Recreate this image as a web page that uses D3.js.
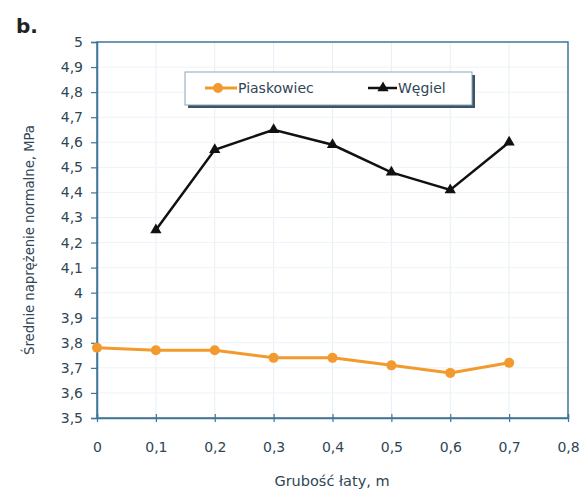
<!DOCTYPE html>
<html>
<head>
<meta charset="utf-8">
<script src="https://cdn.jsdelivr.net/npm/d3@7"></script>
<style>
  body { margin: 0; background: #fff; }
  text { font-family: "DejaVu Sans", Verdana, sans-serif; }
</style>
</head>
<body>
<div id="chart"></div>
<script>
// values
var thickness = [0, 0.1, 0.2, 0.3, 0.4, 0.5, 0.6, 0.7];
var piaskowiec = [3.78, 3.77, 3.77, 3.74, 3.74, 3.71, 3.68, 3.72];
var wegielX = [0.1, 0.2, 0.3, 0.4, 0.5, 0.6, 0.7];
var wegiel = [4.25, 4.57, 4.65, 4.59, 4.48, 4.41, 4.60];
var xTicks = [0, 0.1, 0.2, 0.3, 0.4, 0.5, 0.6, 0.7, 0.8];
var yTicks = [3.5, 3.6, 3.7, 3.8, 3.9, 4, 4.1, 4.2, 4.3, 4.4, 4.5, 4.6, 4.7, 4.8, 4.9, 5];

var W = 582, H = 491;
var margin = {top: 42, right: 14, bottom: 73, left: 97};
var width = W - margin.left - margin.right,
    height = H - margin.top - margin.bottom;

var axisCol = "#3f7596", textCol = "#2f4656";
var orange = "#f29a2e";

var svg = d3.select("#chart").append("svg")
    .attr("width", W).attr("height", H);

svg.append("text")
  .attr("x", 16).attr("y", 33)
  .attr("font-size", 20).attr("font-weight", "bold")
  .attr("fill", "#222")
  .text("b.");

var g = svg.append("g")
  .attr("transform", "translate(" + margin.left + "," + margin.top + ")");

var x = d3.scaleLinear().domain([0, 0.8]).range([0, width]);
var y = d3.scaleLinear().domain([3.5, 5]).range([height, 0]);

var fmt = function(d){ return d3.format("~g")(d).replace(".", ","); };

// faint grid
g.append("g").selectAll("line").data(xTicks.slice(1, -1)).enter().append("line")
  .attr("x1", d => x(d)).attr("x2", d => x(d))
  .attr("y1", 0).attr("y2", height)
  .attr("stroke", "#e6eff5").attr("stroke-width", 1);
g.append("g").selectAll("line").data(yTicks.slice(1, -1)).enter().append("line")
  .attr("y1", d => y(d)).attr("y2", d => y(d))
  .attr("x1", 0).attr("x2", width)
  .attr("stroke", "#eef3f7").attr("stroke-width", 1);

// frame
g.append("rect")
  .attr("width", width).attr("height", height)
  .attr("fill", "none").attr("stroke", axisCol).attr("stroke-width", 1.5);

var xAxis = g.append("g")
  .attr("transform", "translate(0," + height + ")")
  .call(d3.axisBottom(x).tickValues(xTicks).tickFormat(fmt).tickSize(-4).tickPadding(24));
var yAxis = g.append("g")
  .call(d3.axisLeft(y).tickValues(yTicks).tickFormat(fmt).tickSize(6).tickPadding(8));

[xAxis, yAxis].forEach(function(a){
  a.select(".domain").attr("stroke", axisCol).attr("stroke-width", 1.5);
  a.selectAll(".tick line").attr("stroke", axisCol).attr("stroke-width", 1.2);
  a.selectAll(".tick text").attr("fill", textCol).attr("font-size", 14)
    .attr("font-family", "'DejaVu Sans', Verdana, sans-serif");
});
xAxis.selectAll(".tick line").attr("y1", 4);

// axis titles
svg.append("text")
  .attr("x", 332).attr("y", 486)
  .attr("text-anchor", "middle").attr("font-size", 14.5).attr("fill", textCol)
  .text("Grubość łaty, m");
svg.append("text")
  .attr("transform", "translate(34,240) rotate(-90)")
  .attr("text-anchor", "middle").attr("font-size", 13.2).attr("fill", textCol)
  .text("Średnie naprężenie normalne, MPa");

// series
var line = d3.line().x(d => x(d[0])).y(d => y(d[1]));
var pData = thickness.map((t, i) => [t, piaskowiec[i]]);
var wData = wegielX.map((t, i) => [t, wegiel[i]]);

g.append("path").datum(pData)
  .attr("d", line).attr("fill", "none")
  .attr("stroke", orange).attr("stroke-width", 3);
g.selectAll(".pt").data(pData).enter().append("circle")
  .attr("cx", d => x(d[0])).attr("cy", d => y(d[1])).attr("r", 5)
  .attr("fill", orange);

g.append("path").datum(wData)
  .attr("d", line).attr("fill", "none")
  .attr("stroke", "#111").attr("stroke-width", 2.5);
var tri = d3.symbol().type(d3.symbolTriangle).size(55);
g.selectAll(".wt").data(wData).enter().append("path")
  .attr("d", tri)
  .attr("transform", d => "translate(" + x(d[0]) + "," + y(d[1]) + ")")
  .attr("fill", "#111");

// legend
var lg = svg.append("g").attr("transform", "translate(185,72)");
lg.append("rect").attr("x", 3).attr("y", 3).attr("width", 287).attr("height", 33)
  .attr("fill", "#3a5566");
lg.append("rect").attr("width", 287).attr("height", 33)
  .attr("fill", "#fff").attr("stroke", "#8aa5b8").attr("stroke-width", 1);
lg.append("line").attr("x1", 20).attr("x2", 52).attr("y1", 16).attr("y2", 16)
  .attr("stroke", orange).attr("stroke-width", 3);
lg.append("circle").attr("cx", 33).attr("cy", 16).attr("r", 5).attr("fill", orange);
lg.append("text").attr("x", 53).attr("y", 21).attr("font-size", 14).attr("fill", textCol)
  .text("Piaskowiec");
lg.append("line").attr("x1", 183).attr("x2", 212).attr("y1", 16).attr("y2", 16)
  .attr("stroke", "#111").attr("stroke-width", 2.5);
lg.append("path").attr("d", tri).attr("transform", "translate(198,16)").attr("fill", "#111");
lg.append("text").attr("x", 213).attr("y", 21).attr("font-size", 14).attr("fill", textCol)
  .text("Węgiel");
</script>
</body>
</html>
